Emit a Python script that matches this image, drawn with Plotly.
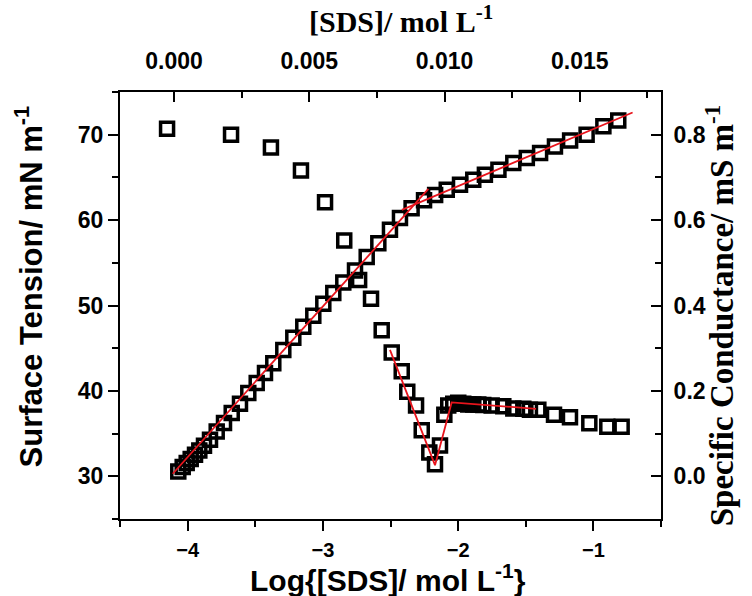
import plotly.graph_objects as go

# Surface tension vs log[SDS] (bottom x, left y)
log_sds = [-4.152, -3.679, -3.384, -3.162, -2.984, -2.842, -2.732, -2.644, -2.565, -2.491,
           -2.417, -2.376, -2.311, -2.269, -2.213, -2.171, -2.134, -2.102, -2.073, -2.036,
           -1.999, -1.962, -1.925, -1.888, -1.851, -1.814, -1.752, -1.666, -1.592, -1.518,
           -1.469, -1.407, -1.291, -1.173, -1.030, -0.897, -0.791]
surface_tension = [70.7, 70.0, 68.5, 65.8, 62.1, 57.6, 53.0, 50.8, 47.1, 44.5,
                   42.3, 39.9, 38.3, 35.4, 32.8, 31.4, 33.6, 37.2, 38.3, 38.5,
                   38.6, 38.5, 38.4, 38.4, 38.4, 38.35, 38.3, 38.2, 37.95, 37.9,
                   37.8, 37.8, 37.2, 36.9, 36.2, 35.8, 35.8]

# Specific conductance vs [SDS] (top x, right y)
sds_conc = [0.000155, 0.000318, 0.000466, 0.000614, 0.000773, 0.000932, 0.001105, 0.001327,
            0.001575, 0.001845, 0.00213, 0.002436, 0.002743, 0.003054, 0.00336, 0.003667,
            0.004037, 0.004407, 0.004776, 0.005146, 0.005516, 0.005885, 0.006255, 0.006688,
            0.00712, 0.00755, 0.00798, 0.00835, 0.00878, 0.00924, 0.00965, 0.01008,
            0.01057, 0.01106, 0.01149, 0.01199, 0.01254, 0.01304, 0.01353, 0.01408,
            0.01464, 0.01525, 0.01587, 0.01642]
conductance = [0.0115, 0.0218, 0.0311, 0.0405, 0.0506, 0.0607, 0.0717, 0.0857,
               0.105, 0.125, 0.148, 0.170, 0.195, 0.2185, 0.242, 0.265,
               0.296, 0.3246, 0.350, 0.376, 0.404, 0.429, 0.454, 0.482,
               0.5136, 0.546, 0.5775, 0.605, 0.628, 0.6466, 0.6586, 0.671,
               0.683, 0.6946, 0.7063, 0.718, 0.734, 0.7455, 0.757, 0.7726,
               0.7866, 0.800, 0.8195, 0.8335]

# Fitted lines
st_fit_x = [-2.504, -2.171, -2.048, -1.424]
st_fit_y = [44.8, 31.3, 38.65, 37.9]
cond_fit1_x = [-0.00005, 0.0094]
cond_fit1_y = [0.006, 0.673]
cond_fit2_x = [0.00842, 0.01695]
cond_fit2_y = [0.624, 0.852]

top_ticks = [0.000, 0.005, 0.010, 0.015]
top_tick_text = ["0.000", "0.005", "0.010", "0.015"]

marker = dict(symbol="square-open", size=13, color="black", line=dict(width=3.5, color="black"))
red = dict(color="#e8141c", width=1.8)

fig = go.Figure()
fig.add_trace(go.Scatter(x=log_sds, y=surface_tension, mode="markers", marker=marker,
                         xaxis="x", yaxis="y", showlegend=False))
fig.add_trace(go.Scatter(x=sds_conc, y=conductance, mode="markers", marker=marker,
                         xaxis="x2", yaxis="y2", showlegend=False))
fig.add_trace(go.Scatter(x=st_fit_x, y=st_fit_y, mode="lines", line=red,
                         xaxis="x", yaxis="y", showlegend=False))
fig.add_trace(go.Scatter(x=cond_fit1_x, y=cond_fit1_y, mode="lines", line=red,
                         xaxis="x2", yaxis="y2", showlegend=False))
fig.add_trace(go.Scatter(x=cond_fit2_x, y=cond_fit2_y, mode="lines", line=red,
                         xaxis="x2", yaxis="y2", showlegend=False))

sans = "Liberation Sans Narrow, Liberation Sans, Arial, sans-serif"
serif = "Liberation Serif, Times New Roman, serif"
tickfont = dict(family=sans, size=23, color="black", weight="bold")
bottom_tickfont = dict(family=sans, size=20, color="black", weight="bold")

common = dict(showgrid=False, zeroline=False, showline=True, linecolor="black", linewidth=2,
              tickcolor="black", tickwidth=2, ticklen=10)

fig.update_layout(
    width=752, height=596,
    margin=dict(l=120, r=91, t=92, b=77),
    paper_bgcolor="white", plot_bgcolor="white",
    xaxis=dict(range=[-4.5, -0.5], dtick=1, tick0=0, ticks="outside", tickfont=bottom_tickfont,
               ticklabelstandoff=2,
               minor=dict(ticks="outside", dtick=0.5, tick0=0, ticklen=6, tickwidth=2, tickcolor="black"),
               **common),
    xaxis2=dict(range=[-0.002, 0.018], overlaying="x", side="top", anchor="y", tickfont=tickfont,
                tickvals=top_ticks, ticktext=top_tick_text, ticks="inside", ticklabelstandoff=12,
                minor=dict(ticks="inside", dtick=0.0025, tick0=0, ticklen=6, tickwidth=2, tickcolor="black"),
                **common),
    yaxis=dict(range=[25, 75], dtick=10, tick0=0, ticks="outside", tickfont=tickfont,
               minor=dict(ticks="outside", dtick=5, tick0=0, ticklen=6, tickwidth=2, tickcolor="black"),
               **common),
    yaxis2=dict(range=[-0.1, 0.9], overlaying="y", side="right", anchor="x", tickfont=tickfont,
                dtick=0.2, tick0=0, tickformat=".1f", ticks="inside", ticklabelstandoff=6,
                minor=dict(ticks="inside", dtick=0.1, tick0=0, ticklen=6, tickwidth=2, tickcolor="black"),
                **common),
    annotations=[
        dict(text="Log{[SDS]/ mol L<sup>-1</sup>}", xref="paper", yref="paper", x=0.495, y=-0.138,
             xanchor="center", yanchor="middle", showarrow=False,
             font=dict(family=sans, size=30, color="black", weight="bold")),
        dict(text="Surface Tension/ mN m<sup>-1</sup>", xref="paper", yref="paper", x=-0.168, y=0.545,
             xanchor="center", yanchor="middle", showarrow=False, textangle=-90,
             font=dict(family=sans, size=31, color="black", weight="bold")),
        dict(text="[SDS]/ mol L<sup>-1</sup>", xref="paper", yref="paper", x=0.52, y=1.17,
             xanchor="center", yanchor="middle", showarrow=False,
             font=dict(family=serif, size=30, color="black", weight="bold")),
        dict(text="Specific Conductance/ mS m<sup>-1</sup>", xref="paper", yref="paper", x=1.108, y=0.478,
             xanchor="center", yanchor="middle", showarrow=False, textangle=-90,
             font=dict(family=serif, size=33, color="black", weight="bold")),
    ],
)

fig.write_html("out.html")
